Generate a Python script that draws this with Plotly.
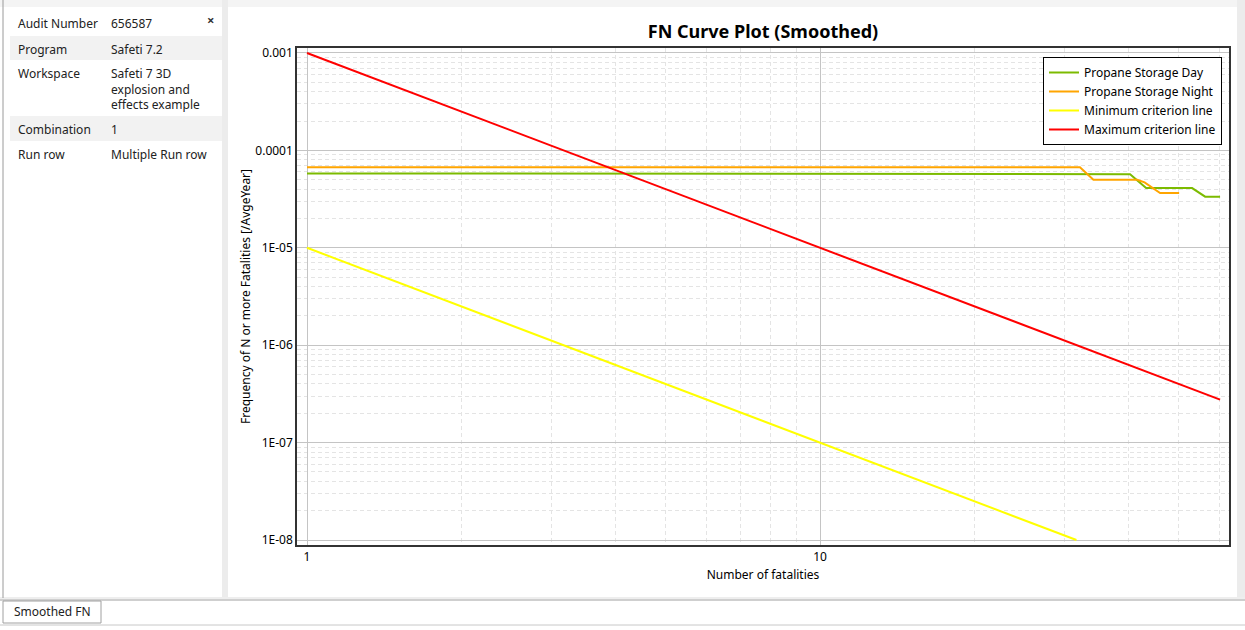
import plotly.graph_objects as go

# ---- FN curve data (N = number of fatalities, F = frequency of N or more) ----
day_n = [1, 20, 40.2, 43.2, 53.1, 56.3, 60.2]
day_f = [5.8e-5, 5.75e-5, 5.7e-5, 4.1e-5, 4.1e-5, 3.35e-5, 3.35e-5]

night_n = [1, 32.1, 34.1, 41.5, 42.9, 46.0, 50.1]
night_f = [6.7e-5, 6.7e-5, 5.0e-5, 5.0e-5, 4.7e-5, 3.65e-5, 3.65e-5]

min_n = [1, 31.6]
min_f = [1e-5, 1e-8]

max_n = [1, 60.2]
max_f = [1e-3, 2.76e-7]

y_tickvals = [1e-8, 1e-7, 1e-6, 1e-5, 1e-4, 1e-3]
y_ticktext = ["1E-08", "1E-07", "1E-06", "1E-05", "0.0001", "0.001"]
x_tickvals = [1, 10]
x_ticktext = ["1", "10"]

# ---- property panel content ----
prop_labels = ["Audit Number", "Program", "Workspace", "Combination", "Run row"]
prop_values = ["656587", "Safeti 7.2", "Safeti 7 3D<br>explosion and<br>effects example",
               "1", "Multiple Run row"]

W, H = 1245, 630
ML, MR, MT, MB = 297, 16, 48, 85
PW, PH = W - ML - MR, H - MT - MB


def px(x):
    return (x - ML) / PW


def py(y):
    return (H - MB - y) / PH


FONT = "Noto Sans, Open Sans, sans-serif"

fig = go.Figure()
fig.add_trace(go.Scatter(x=day_n, y=day_f, mode="lines", name="Propane Storage Day",
                         line=dict(color="#7cbb00", width=2)))
fig.add_trace(go.Scatter(x=night_n, y=night_f, mode="lines", name="Propane Storage Night",
                         line=dict(color="#ffa500", width=2)))
fig.add_trace(go.Scatter(x=min_n, y=min_f, mode="lines", name="Minimum criterion line",
                         line=dict(color="#ffff00", width=2)))
fig.add_trace(go.Scatter(x=max_n, y=max_f, mode="lines", name="Maximum criterion line",
                         line=dict(color="#ff0000", width=2)))

minor_x = [m * 10 ** k for k in range(0, 2) for m in range(2, 10)]
minor_y = [m * 10 ** k for k in range(-9, -2) for m in range(2, 10)]

fig.update_xaxes(
    type="log", range=[-0.0195, 1.797],
    tickmode="array", tickvals=x_tickvals, ticktext=x_ticktext,
    showgrid=True, gridcolor="#c4c4c4", gridwidth=1,
    minor=dict(tickmode="array", tickvals=minor_x, showgrid=True,
               gridcolor="#e4e4e4", griddash="4px,3px", ticks=""),
    showline=True, linecolor="#333333", linewidth=1.5, mirror=True,
    ticks="", zeroline=False,
    tickfont=dict(family=FONT, size=12, color="#000"),
    title=dict(text="Number of fatalities", font=dict(family=FONT, size=12, color="#000"),
               standoff=6),
)
fig.update_yaxes(
    type="log", range=[-8.051, -2.949],
    tickmode="array", tickvals=y_tickvals, ticktext=y_ticktext,
    showgrid=True, gridcolor="#c4c4c4", gridwidth=1,
    minor=dict(tickmode="array", tickvals=minor_y, showgrid=True,
               gridcolor="#e4e4e4", griddash="4px,3px", ticks=""),
    showline=True, linecolor="#333333", linewidth=1.5, mirror=True,
    ticks="", zeroline=False,
    tickfont=dict(family=FONT, size=12, color="#000"),
    title=dict(text="Frequency of N or more Fatalities [/AvgeYear]",
               font=dict(family=FONT, size=12, color="#000"), standoff=2),
)

shapes = []
# outer frame pieces of the window
shapes.append(dict(type="rect", xref="paper", yref="paper",
                   x0=px(0), x1=px(W), y0=py(0), y1=py(7),
                   fillcolor="#f4f4f4", line=dict(width=0), layer="below"))
shapes.append(dict(type="rect", xref="paper", yref="paper",
                   x0=px(222), x1=px(228), y0=py(0), y1=py(598),
                   fillcolor="#ececec", line=dict(width=0), layer="below"))
shapes.append(dict(type="rect", xref="paper", yref="paper",
                   x0=px(1237), x1=px(W), y0=py(0), y1=py(598),
                   fillcolor="#ececec", line=dict(width=0), layer="below"))
shapes.append(dict(type="line", xref="paper", yref="paper",
                   x0=px(3), x1=px(3), y0=py(0), y1=py(598),
                   line=dict(color="#9a9a9a", width=1)))
shapes.append(dict(type="rect", xref="paper", yref="paper",
                   x0=px(0), x1=px(W), y0=py(597), y1=py(601),
                   fillcolor="#eeeeee", line=dict(width=0), layer="below"))
shapes.append(dict(type="line", xref="paper", yref="paper",
                   x0=px(0), x1=px(W), y0=py(600), y1=py(600),
                   line=dict(color="#b0b0b0", width=1)))
shapes.append(dict(type="line", xref="paper", yref="paper",
                   x0=px(0), x1=px(W), y0=py(625), y1=py(625),
                   line=dict(color="#c8c8c8", width=1)))
# tab
shapes.append(dict(type="rect", xref="paper", yref="paper",
                   x0=px(3), x1=px(101), y0=py(601), y1=py(623),
                   fillcolor="#ffffff", line=dict(color="#a0a0a0", width=1)))

# property rows (alternating shading)
row_bounds = [(10, 36), (36, 60), (60, 116), (116, 141), (141, 166)]
row_fill = ["#ffffff", "#f2f2f2", "#ffffff", "#f2f2f2", "#ffffff"]
for (t, b), c in zip(row_bounds, row_fill):
    shapes.append(dict(type="rect", xref="paper", yref="paper",
                       x0=px(10), x1=px(222), y0=py(t), y1=py(b),
                       fillcolor=c, line=dict(width=0), layer="below"))

annotations = []
for (t, b), lab, val in zip(row_bounds, prop_labels, prop_values):
    annotations.append(dict(xref="paper", yref="paper", x=px(16), y=py(t + 3),
                            text=lab, showarrow=False, xanchor="left", yanchor="top",
                            font=dict(family=FONT, size=12, color="#222")))
    annotations.append(dict(xref="paper", yref="paper", x=px(109), y=py(t + 3),
                            text=val, showarrow=False, xanchor="left", yanchor="top",
                            align="left",
                            font=dict(family=FONT, size=12, color="#222")))
annotations.append(dict(xref="paper", yref="paper", x=px(210), y=py(20),
                        text="<b>×</b>", showarrow=False, xanchor="center", yanchor="middle",
                        font=dict(family=FONT, size=13, color="#333")))
annotations.append(dict(xref="paper", yref="paper", x=px(52), y=py(612),
                        text="Smoothed FN", showarrow=False, xanchor="center", yanchor="middle",
                        font=dict(family=FONT, size=12, color="#222")))

fig.update_layout(
    width=W, height=H,
    margin=dict(l=ML, r=MR, t=MT, b=MB, pad=0),
    paper_bgcolor="#ffffff", plot_bgcolor="#ffffff",
    title=dict(text="<b>FN Curve Plot (Smoothed)</b>", x=px(763), xanchor="center",
               xref="paper", y=1 - 32 / H, yanchor="middle",
               font=dict(family=FONT, size=18, color="#000")),
    legend=dict(x=px(1222), y=py(57), xanchor="right", yanchor="top",
                bgcolor="#ffffff", bordercolor="#000000", borderwidth=1,
                font=dict(family=FONT, size=12, color="#000"),
                tracegroupgap=0, itemwidth=30),
    shapes=shapes,
    annotations=annotations,
    showlegend=True,
)

fig.write_html("out.html", config={"displayModeBar": False})
